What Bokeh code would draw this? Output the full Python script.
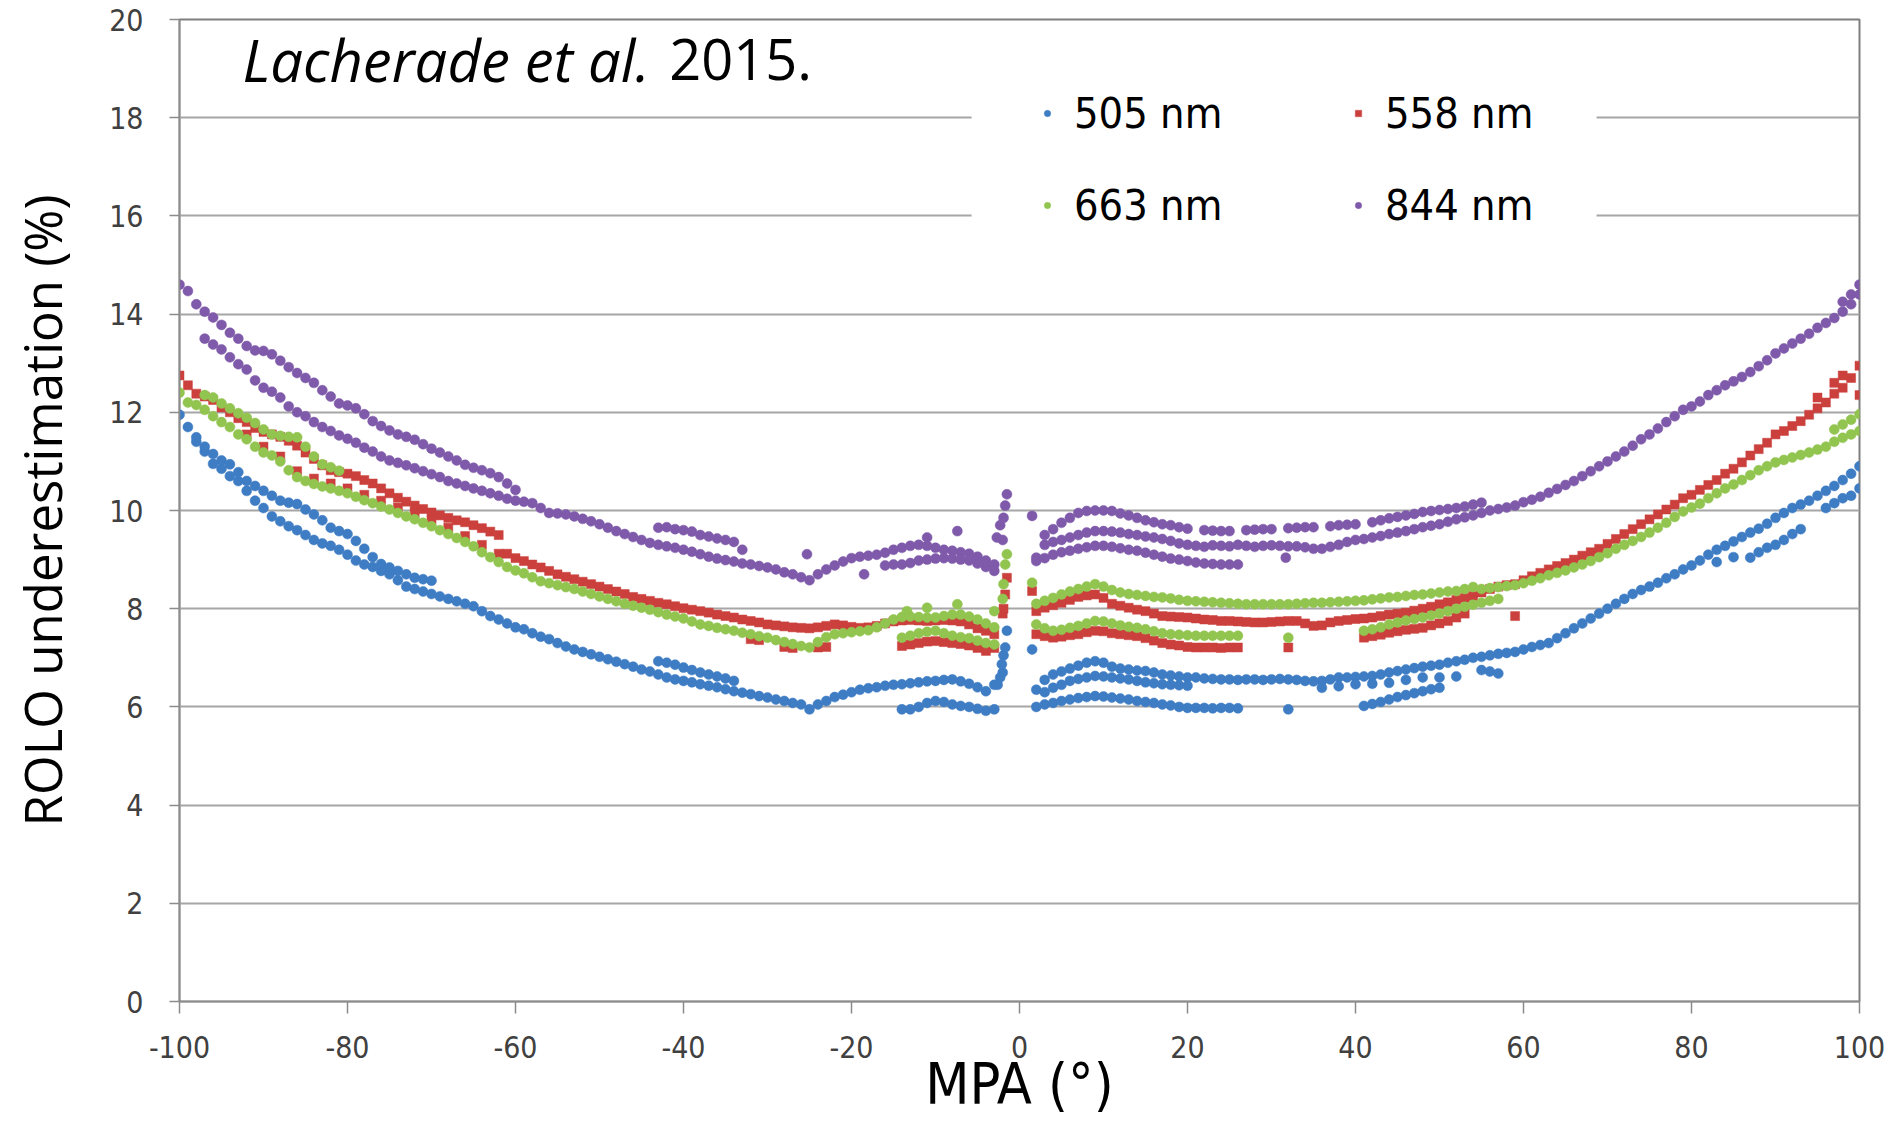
from bokeh.plotting import figure
from bokeh.models import ColumnDataSource, Legend, LegendItem, Label, FixedTicker, BoxAnnotation
from bokeh.embed import file_html
from bokeh.resources import INLINE

# ---------------- axis ticks ----------------
x_ticks = [-100, -80, -60, -40, -20, 0, 20, 40, 60, 80, 100]
x_tick_labels = ["-100", "-80", "-60", "-40", "-20", "0", "20", "40", "60", "80", "100"]
y_ticks = [0, 2, 4, 6, 8, 10, 12, 14, 16, 18, 20]

# sampling grids (MPA in degrees) for the main tracks
mpa_left = list(range(-100, -1))   # -100 .. -2
mpa_right = list(range(2, 101))    # 2 .. 100
mpa_near_zero = list(range(-14, -2))  # -14 .. -3
mpa_after_zero = list(range(2, 27))   # 2 .. 26

# ---------------- 505 nm (blue) ----------------
b505_left = [11.95, 11.7, 11.4, 11.2, 10.95, 10.85, 10.7, 10.6, 10.4, 10.2,
             10.05, 9.88, 9.78, 9.68, 9.6, 9.5, 9.4, 9.33, 9.28, 9.2,
             9.1, 8.98, 8.9, 8.85, 8.77, 8.7, 8.58, 8.45, 8.4, 8.35,
             8.3, 8.25, 8.2, 8.15, 8.1, 8.05, 7.95, 7.85, 7.78, 7.7,
             7.62, 7.58, 7.5, 7.43, 7.38, 7.3, 7.23, 7.17, 7.12, 7.07,
             7.02, 6.97, 6.92, 6.87, 6.82, 6.76, 6.72, 6.66, 6.6, 6.56,
             6.53, 6.5, 6.46, 6.43, 6.4, 6.36, 6.32, 6.29, 6.26, 6.22,
             6.19, 6.15, 6.12, 6.08, 6.05, 5.95, 6.05, 6.12, 6.2, 6.25,
             6.3, 6.35, 6.38, 6.4, 6.43, 6.45, 6.46, 6.48, 6.5, 6.52,
             6.53, 6.55, 6.56, 6.52, 6.47, 6.4, 6.32, 6.45, 6.7]
b505_right = [6.35, 6.55, 6.66, 6.72, 6.78, 6.84, 6.9, 6.93,
              6.9, 6.82, 6.78, 6.76, 6.74, 6.73, 6.7, 6.66, 6.64, 6.62,
              6.6, 6.6, 6.58, 6.57, 6.56, 6.56, 6.55, 6.56, 6.56, 6.55,
              6.56, 6.57, 6.56, 6.55, 6.53, 6.52, 6.53, 6.56, 6.6, 6.6,
              6.61, 6.62, 6.63, 6.66, 6.7, 6.73, 6.76, 6.79, 6.82, 6.84,
              6.86, 6.9, 6.93, 6.96, 7.0, 7.02, 7.05, 7.08, 7.1, 7.12,
              7.17, 7.22, 7.26, 7.3, 7.4, 7.5, 7.6, 7.7, 7.8, 7.9,
              8.0, 8.1, 8.2, 8.3, 8.38, 8.45, 8.53, 8.62, 8.7, 8.8,
              8.88, 8.98, 9.1, 9.2, 9.28, 9.37, 9.46, 9.55, 9.63, 9.73,
              9.85, 9.95, 10.05, 10.12, 10.2, 10.3, 10.4, 10.5, 10.62, 10.75,
              10.9]
b505_upper_x = [-98, -97, -96, -95, -94, -93, -92, -91, -90, -89, -88, -87, -86, -85, -84,
                -83, -82, -81, -80, -79, -78, -77, -76, -75, -74, -73, -72, -71, -70]
b505_upper_y = [11.49, 11.3, 11.15, 11.02, 10.94, 10.78, 10.6, 10.5, 10.4, 10.3,
                10.2, 10.16, 10.13, 10.02, 9.92, 9.8, 9.65, 9.58, 9.52, 9.38,
                9.22, 9.05, 8.91, 8.84, 8.77, 8.7, 8.63, 8.6, 8.57]
b505_short_x = [-43, -42, -41, -40, -39, -38, -37, -36, -35, -34]
b505_short_y = [6.93, 6.9, 6.86, 6.8, 6.75, 6.7, 6.66, 6.62, 6.58, 6.53]
b505_nz_low = [5.95, 5.95, 6.0, 6.08, 6.12, 6.1, 6.05, 6.02, 6.0, 5.96, 5.92, 5.95]
b505_spike_x = [-2.6, -2.3, -2.1, -1.9, -1.7, -1.5, 1.5]
b505_spike_y = [6.45, 6.6, 6.87, 7.05, 7.21, 7.55, 7.17]
b505_mid_x = [3, 4, 5, 6, 7, 8, 9, 10, 11, 12, 13, 14, 15, 16, 17, 18, 19, 20,
              36, 38, 40, 42, 44, 46, 48, 50, 52]
b505_mid_y = [6.3, 6.39, 6.45, 6.53, 6.57, 6.6, 6.63, 6.62, 6.6, 6.58, 6.56, 6.53, 6.5, 6.48,
              6.46, 6.45, 6.44, 6.43,
              6.39, 6.42, 6.46, 6.47, 6.49, 6.55, 6.6, 6.6, 6.62]
b505_low_after = [6.0, 6.05, 6.08, 6.12, 6.15, 6.18, 6.2, 6.22, 6.21, 6.19,
                  6.17, 6.15, 6.12, 6.1, 6.08, 6.05, 6.03, 6.0, 5.98, 5.98,
                  5.98, 5.97, 5.98, 5.98, 5.97]
b505_extra_x = [32, 41, 42, 43, 44, 45, 46, 47, 48, 49, 50, 55, 56, 57,
                83, 85, 87, 88, 89, 90, 91, 92, 93, 96, 97, 98, 99, 100]
b505_extra_y = [5.95, 6.02, 6.06, 6.1, 6.15, 6.2, 6.24, 6.28, 6.32, 6.36, 6.39, 6.75, 6.72, 6.68,
                8.95, 9.05, 9.04, 9.15, 9.24, 9.3, 9.4, 9.52, 9.62, 10.05, 10.15, 10.25, 10.3, 10.45]

# ---------------- 558 nm (red) ----------------
r558_left = [12.75, 12.55, 12.38, 12.32, 12.25, 12.1, 12.0, 11.88, 11.8, 11.68,
             11.6, 11.55, 11.5, 11.42, 11.32, 11.18, 11.05, 10.92, 10.82, 10.78,
             10.75, 10.7, 10.62, 10.55, 10.45, 10.35, 10.26, 10.18, 10.1, 10.03,
             9.96, 9.9, 9.85, 9.8, 9.76, 9.7, 9.64, 9.57, 9.5, 9.12,
             9.03, 8.97, 8.9, 8.84, 8.77, 8.7, 8.65, 8.6, 8.55, 8.5,
             8.45, 8.4, 8.35, 8.3, 8.24, 8.2, 8.16, 8.12, 8.09, 8.05,
             8.01, 7.98, 7.95, 7.92, 7.88, 7.85, 7.82, 7.78, 7.75, 7.72,
             7.68, 7.66, 7.64, 7.62, 7.61, 7.6, 7.62, 7.65, 7.68, 7.66,
             7.63, 7.61, 7.62, 7.65, 7.7, 7.74, 7.76, 7.77, 7.76, 7.75,
             7.76, 7.77, 7.76, 7.74, 7.68, 7.6, 7.55, 7.48, 7.9]
r558_right = [7.95, 8.02, 8.07, 8.12, 8.18, 8.24, 8.27, 8.29,
              8.22, 8.1, 8.06, 8.02, 7.98, 7.95, 7.9, 7.85, 7.84, 7.83,
              7.82, 7.8, 7.78, 7.77, 7.75, 7.75, 7.74, 7.73, 7.72, 7.72,
              7.73, 7.74, 7.75, 7.75, 7.7, 7.65, 7.66, 7.72, 7.75, 7.77,
              7.79, 7.8, 7.82, 7.85, 7.88, 7.9, 7.92, 7.96, 8.0, 8.04,
              8.09, 8.13, 8.18, 8.22, 8.26, 8.33, 8.4, 8.45, 8.48, 8.5,
              8.58, 8.66, 8.73, 8.8, 8.87, 8.93, 9.0, 9.08, 9.15, 9.22,
              9.32, 9.42, 9.52, 9.62, 9.72, 9.82, 9.92, 10.02, 10.12, 10.25,
              10.32, 10.42, 10.52, 10.62, 10.75, 10.85, 10.98, 11.12, 11.25, 11.38,
              11.55, 11.62, 11.72, 11.82, 11.95, 12.08, 12.2, 12.38, 12.5, 12.7,
              12.95]
r558_lowbranch_x = [-92, -90, -88, -86, -84, -82, -80, -78, -76, -74, -72, -70, -68, -66, -64, -62]
r558_lowbranch_y = [11.55, 11.3, 11.1, 10.8, 10.65, 10.55, 10.45, 10.32, 10.2, 10.06,
                    9.94, 9.8, 9.65, 9.48, 9.3, 9.12]
r558_nz_low = [7.24, 7.27, 7.3, 7.33, 7.34, 7.32, 7.3, 7.28, 7.25, 7.2, 7.14, 7.2]
r558_low_after = [7.48, 7.44, 7.41, 7.43, 7.46, 7.48, 7.52, 7.55, 7.54, 7.5,
                  7.48, 7.46, 7.44, 7.4, 7.35, 7.3, 7.27, 7.25, 7.22, 7.21,
                  7.21, 7.21, 7.2, 7.21, 7.21]
r558_extra_x = [-32, -31, -28, -27, -24, -23, -1.9, -1.7, -1.5, 1.5, 59,
                32, 41, 42, 43, 44, 45, 46, 47, 48, 49, 50, 51, 52, 53,
                95, 97, 98, 100]
r558_extra_y = [7.38, 7.36, 7.22, 7.2, 7.21, 7.22, 8.0, 8.29, 8.63, 8.36, 7.85,
                7.21, 7.41, 7.44, 7.47, 7.51, 7.54, 7.57, 7.59, 7.61, 7.66, 7.7, 7.75, 7.82, 7.9,
                12.3, 12.6, 12.75, 12.35]

# ---------------- 663 nm (green) ----------------
g663_left = [12.4, 12.2, 12.15, 12.05, 11.92, 11.8, 11.7, 11.55, 11.45, 11.3,
             11.18, 11.12, 11.0, 10.82, 10.68, 10.6, 10.54, 10.49, 10.45, 10.4,
             10.35, 10.28, 10.21, 10.15, 10.08, 10.02, 9.95, 9.88, 9.82, 9.75,
             9.68, 9.6, 9.52, 9.44, 9.36, 9.27, 9.15, 9.05, 8.95, 8.85,
             8.78, 8.72, 8.64, 8.56, 8.52, 8.48, 8.44, 8.4, 8.35, 8.3,
             8.25, 8.2, 8.15, 8.1, 8.06, 8.02, 7.98, 7.93, 7.88, 7.84,
             7.8, 7.74, 7.68, 7.65, 7.61, 7.58, 7.55, 7.51, 7.48, 7.44,
             7.41, 7.36, 7.32, 7.28, 7.24, 7.21, 7.32, 7.42, 7.48, 7.5,
             7.52, 7.54, 7.56, 7.62, 7.7, 7.78, 7.83, 7.84, 7.83, 7.82,
             7.82, 7.85, 7.88, 7.88, 7.84, 7.78, 7.7, 7.62, 8.2]
g663_right = [8.1, 8.16, 8.22, 8.29, 8.35, 8.4, 8.45, 8.5,
              8.45, 8.38, 8.33, 8.3, 8.28, 8.26, 8.24, 8.23, 8.21, 8.18,
              8.16, 8.15, 8.14, 8.13, 8.12, 8.11, 8.1, 8.09, 8.09, 8.09,
              8.09, 8.09, 8.09, 8.1, 8.11, 8.12, 8.12, 8.13, 8.14, 8.15,
              8.16, 8.17, 8.19, 8.21, 8.23, 8.24, 8.26, 8.28, 8.29, 8.31,
              8.33, 8.35, 8.36, 8.4, 8.44, 8.4, 8.42, 8.44, 8.46, 8.48,
              8.52, 8.57, 8.62, 8.68, 8.73, 8.78, 8.84, 8.9, 8.97, 9.05,
              9.13, 9.22, 9.3, 9.38, 9.46, 9.55, 9.65, 9.75, 9.87, 9.98,
              10.06, 10.14, 10.25, 10.35, 10.45, 10.53, 10.62, 10.72, 10.82, 10.9,
              10.98, 11.03, 11.08, 11.13, 11.18, 11.24, 11.3, 11.4, 11.48, 11.55,
              11.62]
g663_upper_x = [-97, -96, -95, -94, -93, -92, -91, -90, -89, -88, -87, -86, -85, -84, -83, -82, -81]
g663_upper_y = [12.35, 12.3, 12.18, 12.08, 11.98, 11.89, 11.78, 11.65, 11.55, 11.52,
                11.5, 11.49, 11.3, 11.1, 10.94, 10.88, 10.81]
g663_nz_low = [7.41, 7.45, 7.5, 7.53, 7.55, 7.5, 7.45, 7.42, 7.4, 7.35, 7.3, 7.27]
g663_low_after = [7.68, 7.6, 7.55, 7.57, 7.61, 7.65, 7.7, 7.75, 7.74, 7.7,
                  7.66, 7.63, 7.61, 7.58, 7.54, 7.5, 7.48, 7.47, 7.46, 7.45,
                  7.45, 7.45, 7.45, 7.45, 7.45]
g663_extra_x = [-13.4, -11, -7.4, -3, -1.9, -1.7, -1.5, 1.5,
                32, 41, 42, 43, 44, 45, 46, 47, 48, 49, 50, 51, 52, 53, 54, 55, 56, 57,
                97, 98, 99, 100]
g663_extra_y = [7.95, 8.02, 8.09, 7.95, 8.5, 8.9, 9.11, 8.53,
                7.41, 7.55, 7.58, 7.62, 7.68, 7.72, 7.76, 7.79, 7.82, 7.86, 7.9, 7.95, 8.0,
                8.04, 8.08, 8.12, 8.16, 8.2,
                11.65, 11.75, 11.85, 11.96]

# ---------------- 844 nm (purple) ----------------
p844_upper_x = list(range(-100, -59))  # -100 .. -60
p844_upper_y = [14.6, 14.47, 14.2, 14.05, 13.93, 13.78, 13.62, 13.5, 13.35, 13.26,
                13.25, 13.18, 13.05, 12.92, 12.8, 12.7, 12.6, 12.45, 12.32, 12.18,
                12.14, 12.08, 11.96, 11.82, 11.72, 11.63, 11.55, 11.5, 11.44, 11.35,
                11.26, 11.18, 11.1, 11.02, 10.93, 10.87, 10.82, 10.76, 10.68, 10.55,
                10.42]
p844_left_x = list(range(-97, -1))  # -97 .. -2
p844_left_y = [13.5, 13.38, 13.28,
               13.12, 12.98, 12.87, 12.65,
               12.5, 12.42, 12.3, 12.12, 12.0, 11.92, 11.8, 11.7, 11.62, 11.53,
               11.46, 11.38, 11.28, 11.2, 11.1, 11.02, 10.97, 10.92, 10.86, 10.8,
               10.74, 10.68, 10.6, 10.55, 10.5, 10.45, 10.4, 10.35, 10.3, 10.24,
               10.2, 10.18, 10.15, 10.05, 9.95, 9.94, 9.92, 9.88, 9.83, 9.78,
               9.72, 9.65, 9.58, 9.52, 9.46, 9.4, 9.34, 9.3, 9.27, 9.24,
               9.2, 9.16, 9.11, 9.06, 9.02, 8.99, 8.96, 8.92, 8.9, 8.87,
               8.84, 8.8, 8.74, 8.7, 8.64, 8.58, 8.7, 8.8, 8.88, 8.96,
               9.03, 9.06, 9.08, 9.1, 9.14, 9.2, 9.24, 9.28, 9.3, 9.28,
               9.24, 9.2, 9.18, 9.15, 9.12, 9.06, 8.98, 8.9, 9.4]
p844_right = [9.04, 9.3, 9.36, 9.4, 9.45, 9.5, 9.55, 9.58,
              9.58, 9.57, 9.55, 9.52, 9.5, 9.47, 9.45, 9.42, 9.38, 9.33,
              9.3, 9.28, 9.26, 9.29, 9.28, 9.27, 9.3, 9.28, 9.26, 9.28,
              9.29, 9.28, 9.27, 9.27, 9.25, 9.22, 9.22, 9.26, 9.3, 9.36,
              9.4, 9.42, 9.45, 9.48, 9.52, 9.55, 9.58, 9.62, 9.66, 9.69,
              9.72, 9.77, 9.82, 9.86, 9.9, 9.95, 10.0, 10.03, 10.06, 10.1,
              10.17, 10.22, 10.28, 10.36, 10.44, 10.52, 10.6, 10.7, 10.8, 10.9,
              11.0, 11.1, 11.2, 11.32, 11.45, 11.55, 11.67, 11.8, 11.92, 12.05,
              12.12, 12.22, 12.35, 12.45, 12.55, 12.63, 12.72, 12.82, 12.94, 13.06,
              13.2, 13.3, 13.4, 13.5, 13.6, 13.72, 13.82, 13.92, 14.05, 14.2,
              14.4]
p844_rupper_x = [3, 4, 5, 6, 7, 8, 9, 10, 11, 12, 13, 14, 15, 16, 17, 18, 19, 20,
                 22, 23, 24, 25, 27, 28, 29, 30, 32, 33, 34, 35, 37, 38, 39, 40,
                 42, 43, 44, 45, 46, 47, 48, 49, 50, 51, 52, 53, 54, 55]
p844_rupper_y = [9.5, 9.62, 9.75, 9.85, 9.95, 9.99, 10.0, 10.0, 9.99, 9.94, 9.9, 9.85,
                 9.8, 9.76, 9.72, 9.7, 9.66, 9.63,
                 9.6, 9.59, 9.58, 9.58, 9.6, 9.61, 9.62, 9.62, 9.64, 9.65, 9.66, 9.66,
                 9.68, 9.7, 9.71, 9.72,
                 9.76, 9.8, 9.84, 9.87, 9.9, 9.93, 9.97, 9.99, 10.01, 10.03, 10.05, 10.08,
                 10.12, 10.16]
p844_low_after = [8.97, 9.03, 9.1, 9.15, 9.18, 9.22, 9.25, 9.28, 9.28, 9.26,
                  9.23, 9.2, 9.18, 9.14, 9.1, 9.06, 9.02, 9.0, 8.97, 8.94,
                  8.92, 8.91, 8.9, 8.9, 8.9]
p844_extra_x = [-43, -42, -41, -40, -39, -38, -37, -36, -35, -34, -33,
                -16, -15, -14, -13, -12, -11, -10, -9, -8, -7, -6, -5, -4, -3,
                -25.3, -18.5, -11, -7.4,
                -2.7, -2.3, -1.9, -1.7, -1.5, 1.5, 31.7, 98, 99, 100]
p844_extra_y = [9.65, 9.66, 9.62, 9.6, 9.57, 9.5, 9.47, 9.43, 9.4, 9.36, 9.2,
                8.88, 8.9, 8.9, 8.93, 8.98, 9.0, 9.02, 9.03, 9.02, 9.0, 8.98, 8.92, 8.85, 8.77,
                9.11, 8.7, 9.45, 9.58,
                9.45, 9.7, 9.85, 10.1, 10.33, 9.89, 9.04, 14.25, 14.4, 14.6]


def gather(*pairs):
    xs, ys = [], []
    for xv, yv in pairs:
        assert len(xv) == len(yv), (len(xv), len(yv))
        xs += list(xv)
        ys += list(yv)
    return ColumnDataSource(dict(mpa=xs, under=ys))


src_505 = gather((mpa_left, b505_left), (mpa_right, b505_right),
                 (b505_upper_x, b505_upper_y), (b505_short_x, b505_short_y),
                 (mpa_near_zero, b505_nz_low), (b505_spike_x, b505_spike_y),
                 (b505_mid_x, b505_mid_y), (mpa_after_zero, b505_low_after),
                 (b505_extra_x, b505_extra_y))
src_558 = gather((mpa_left, r558_left), (mpa_right, r558_right),
                 (r558_lowbranch_x, r558_lowbranch_y), (mpa_near_zero, r558_nz_low),
                 (mpa_after_zero, r558_low_after), (r558_extra_x, r558_extra_y))
src_663 = gather((mpa_left, g663_left), (mpa_right, g663_right),
                 (g663_upper_x, g663_upper_y), (mpa_near_zero, g663_nz_low),
                 (mpa_after_zero, g663_low_after), (g663_extra_x, g663_extra_y))
src_844 = gather((p844_upper_x, p844_upper_y), (p844_left_x, p844_left_y),
                 (mpa_right, p844_right), (p844_rupper_x, p844_rupper_y),
                 (mpa_after_zero, p844_low_after), (p844_extra_x, p844_extra_y))

BLUE, RED, GREEN, PURPLE = "#3E7CC4", "#CB403D", "#92C450", "#7F5AAA"
FONT = "Open Sans"
CFONT = "DejaVu Sans Condensed"

p = figure(width=1895, height=1126, x_range=(-100, 100), y_range=(0, 20),
           output_backend="svg", toolbar_location=None,
           min_border_left=179, min_border_right=36, min_border_top=19, min_border_bottom=125,
           background_fill_color="white", border_fill_color="white")

r_505 = p.scatter("mpa", "under", source=src_505, marker="circle", size=10,
                  fill_color=BLUE, line_color=BLUE, line_width=0.5)
r_558 = p.scatter("mpa", "under", source=src_558, marker="square", size=9,
                  fill_color=RED, line_color=RED, line_width=0.5)
r_663 = p.scatter("mpa", "under", source=src_663, marker="circle", size=10,
                  fill_color=GREEN, line_color=GREEN, line_width=0.5)
r_844 = p.scatter("mpa", "under", source=src_844, marker="circle", size=10,
                  fill_color=PURPLE, line_color=PURPLE, line_width=0.5)

# axes
p.xaxis.ticker = FixedTicker(ticks=x_ticks)
p.xaxis.major_label_overrides = {t: s for t, s in zip(x_ticks, x_tick_labels)}
p.yaxis.ticker = FixedTicker(ticks=y_ticks)
for ax in (p.xaxis, p.yaxis):
    ax.axis_line_color = "#8c8c8c"
    ax.axis_line_width = 1.5
    ax.major_tick_line_color = "#8c8c8c"
    ax.major_tick_line_width = 1.5
    ax.major_tick_in = 0
    ax.minor_tick_line_color = None
    ax.major_label_text_font = CFONT
    ax.major_label_text_font_size = "30px"
    ax.major_label_text_color = "#404040"
    ax.axis_label_text_font_style = "normal"
    ax.axis_label_text_color = "black"

p.xaxis.axis_label = "MPA (°)"
p.xaxis.axis_label_text_font = CFONT
p.xaxis.axis_label_text_font_size = "57px"
p.xaxis.major_tick_out = 12
p.xaxis.major_label_standoff = 22
p.xaxis.axis_label_standoff = -10

p.yaxis.axis_label = "ROLO underestimation (%)"
p.yaxis.axis_label_text_font = FONT
p.yaxis.axis_label_text_font_size = "51px"
p.yaxis.major_tick_out = 10
p.yaxis.major_label_standoff = 26
p.yaxis.axis_label_standoff = 29

p.xgrid.grid_line_color = None
p.ygrid.grid_line_color = "#a6a6a6"
p.ygrid.grid_line_width = 2
p.outline_line_color = "#7f7f7f"
p.outline_line_width = 2

# reference note
p.add_layout(Label(x=-92.5, y=19.18, text="Lacherade et al.", text_font=FONT,
                   text_font_style="italic", text_font_size="58px",
                   text_baseline="alphabetic", text_color="black"))
p.add_layout(Label(x=-41.7, y=19.18, text="2015.", text_font=FONT,
                   text_font_size="56px", text_baseline="alphabetic", text_color="black"))

# white panel behind the legend (hides the gridlines there)
p.add_layout(BoxAnnotation(left=-5.7, right=68.7, bottom=15.3, top=18.85,
                           fill_color="white", fill_alpha=1.0, line_color=None))

# legend: two columns
common = dict(label_text_font=CFONT, label_text_font_size="43px", label_text_color="black",
              glyph_width=16, glyph_height=16, label_standoff=19, label_height=50,
              spacing=42, padding=0, border_line_color=None,
              background_fill_color="white", background_fill_alpha=1.0, margin=0)
leg1 = Legend(items=[LegendItem(label="505 nm", renderers=[r_505]),
                     LegendItem(label="663 nm", renderers=[r_663])],
              location=(860, 771), **common)
leg2 = Legend(items=[LegendItem(label="558 nm", renderers=[r_558]),
                     LegendItem(label="844 nm", renderers=[r_844])],
              location=(1171, 771), **common)
p.add_layout(leg1)
p.add_layout(leg2)

open("out.html", "w").write(file_html(p, INLINE))
